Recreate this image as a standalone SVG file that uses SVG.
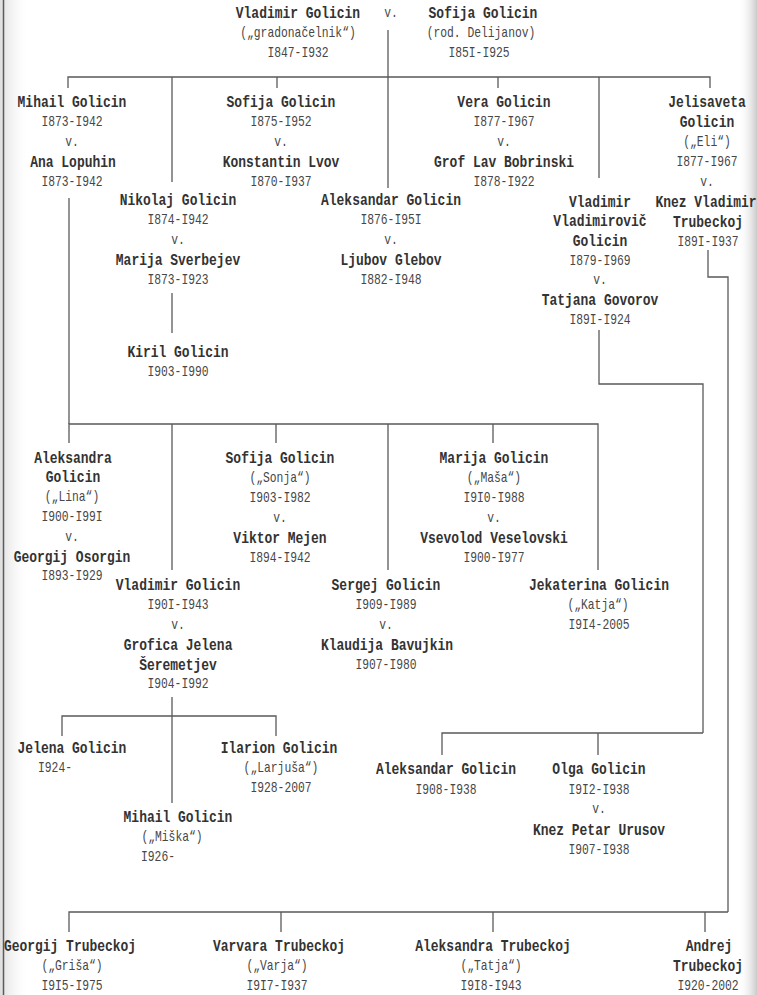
<svg xmlns="http://www.w3.org/2000/svg" width="757" height="995" viewBox="0 0 757 995">
<defs>
<style>
text { transform-box: fill-box; transform-origin: center; transform: scaleX(0.81); text-anchor: middle; }
.n { font-family: "Liberation Mono", "Courier New", monospace; font-weight: bold; font-size: 16px; fill: #333; }
.d { font-family: "Liberation Mono", "Courier New", monospace; font-size: 14px; fill: #474747; }
.s { text-anchor: start; }
.c path { fill: none; stroke: #5a5a5a; stroke-width: 1.3; }
</style>
<linearGradient id="lshade" x1="0" y1="0" x2="1" y2="0">
<stop offset="0" stop-color="#c8c8c8" stop-opacity="0.6"/>
<stop offset="1" stop-color="#ffffff" stop-opacity="0"/>
</linearGradient>
<linearGradient id="rshade" x1="0" y1="0" x2="1" y2="0">
<stop offset="0" stop-color="#ffffff" stop-opacity="0"/>
<stop offset="1" stop-color="#bdbdbd" stop-opacity="0.8"/>
</linearGradient>
</defs>
<rect width="757" height="995" fill="#ffffff"/>
<rect x="0" y="0" width="30" height="995" fill="url(#lshade)"/>
<rect x="738" y="0" width="19" height="995" fill="url(#rshade)"/>
<line x1="3.5" y1="0" x2="3.5" y2="995" stroke="#5a5a5a" stroke-width="1.5"/>

<g id="connectors" class="c">
<path d="M388 30V188"/>
<path d="M68 88V77H710V88"/>
<path d="M277 77V88M498 77V88M172 77V182M599 77V178"/>
<path d="M69 198V424"/>
<path d="M172 293V333"/>
<path d="M708 250V277H728V912"/>
<path d="M599 330V384H703V733"/>
<path d="M69 443V424H598V570M276 424V443M493 424V443M172 424V570M388 424V570"/>
<path d="M172 697V803M62 736V716H276V736"/>
<path d="M442 755V733H703M598 733V755"/>
<path d="M69 932V912H728M281 912V932M493 912V932M705 912V932"/>
</g>

<g id="vladimir-1847">
<text class="n" x="298" y="18">Vladimir Golicin</text>
<text class="d" x="298" y="37">(„gradonačelnik“)</text>
<text class="d" x="298" y="57">I847-I932</text>
</g>
<g id="marriage-top"><text class="d" x="391" y="17">v.</text></g>
<g id="sofija-1851">
<text class="n" x="483" y="18">Sofija Golicin</text>
<text class="d" x="481" y="37">(rod. Delijanov)</text>
<text class="d" x="479" y="57">I85I-I925</text>
</g>

<g id="mihail-1873">
<text class="n" x="72" y="107">Mihail Golicin</text>
<text class="d" x="72" y="126">I873-I942</text>
<text class="d" x="72" y="146">v.</text>
<text class="n" x="73" y="167">Ana Lopuhin</text>
<text class="d" x="72" y="186">I873-I942</text>
</g>
<g id="sofija-1875">
<text class="n" x="281" y="107">Sofija Golicin</text>
<text class="d" x="281" y="126">I875-I952</text>
<text class="d" x="281" y="146">v.</text>
<text class="n" x="281" y="167">Konstantin Lvov</text>
<text class="d" x="281" y="186">I870-I937</text>
</g>
<g id="vera-1877">
<text class="n" x="504" y="107">Vera Golicin</text>
<text class="d" x="504" y="126">I877-I967</text>
<text class="d" x="504" y="146">v.</text>
<text class="n" x="504" y="167">Grof Lav Bobrinski</text>
<text class="d" x="504" y="186">I878-I922</text>
</g>
<g id="jelisaveta-1877">
<text class="n" x="707" y="107">Jelisaveta</text>
<text class="n" x="707" y="127">Golicin</text>
<text class="d" x="707" y="146">(„Eli“)</text>
<text class="d" x="707" y="166">I877-I967</text>
<text class="d" x="707" y="186">v.</text>
<text class="n" x="706" y="207">Knez Vladimir</text>
<text class="n" x="708" y="227">Trubeckoj</text>
<text class="d" x="708" y="246">I89I-I937</text>
</g>
<g id="nikolaj-1874">
<text class="n" x="178" y="205">Nikolaj Golicin</text>
<text class="d" x="178" y="224">I874-I942</text>
<text class="d" x="178" y="244">v.</text>
<text class="n" x="178" y="265">Marija Sverbejev</text>
<text class="d" x="178" y="284">I873-I923</text>
</g>
<g id="kiril-1903">
<text class="n" x="178" y="357">Kiril Golicin</text>
<text class="d" x="178" y="376">I903-I990</text>
</g>
<g id="aleksandar-1876">
<text class="n" x="391" y="205">Aleksandar Golicin</text>
<text class="d" x="391" y="224">I876-I95I</text>
<text class="d" x="391" y="244">v.</text>
<text class="n" x="391" y="265">Ljubov Glebov</text>
<text class="d" x="391" y="284">I882-I948</text>
</g>
<g id="vladimir-1879">
<text class="n" x="600" y="207">Vladimir</text>
<text class="n" x="600" y="226">Vladimirovič</text>
<text class="n" x="600" y="246">Golicin</text>
<text class="d" x="600" y="265">I879-I969</text>
<text class="d" x="600" y="284">v.</text>
<text class="n" x="600" y="305">Tatjana Govorov</text>
<text class="d" x="600" y="324">I89I-I924</text>
</g>

<g id="aleksandra-1900">
<text class="n" x="73" y="463">Aleksandra</text>
<text class="n" x="73" y="482">Golicin</text>
<text class="d" x="72" y="501">(„Lina“)</text>
<text class="d" x="72" y="521">I900-I99I</text>
<text class="d" x="72" y="541">v.</text>
<text class="n" x="72" y="562">Georgij Osorgin</text>
<text class="d" x="72" y="580">I893-I929</text>
</g>
<g id="sofija-1903">
<text class="n" x="280" y="463">Sofija Golicin</text>
<text class="d" x="280" y="482">(„Sonja“)</text>
<text class="d" x="280" y="502">I903-I982</text>
<text class="d" x="280" y="522">v.</text>
<text class="n" x="280" y="543">Viktor Mejen</text>
<text class="d" x="280" y="562">I894-I942</text>
</g>
<g id="marija-1910">
<text class="n" x="494" y="463">Marija Golicin</text>
<text class="d" x="494" y="482">(„Maša“)</text>
<text class="d" x="494" y="502">I9I0-I988</text>
<text class="d" x="494" y="522">v.</text>
<text class="n" x="494" y="543">Vsevolod Veselovski</text>
<text class="d" x="494" y="562">I900-I977</text>
</g>
<g id="vladimir-1901">
<text class="n" x="178" y="590">Vladimir Golicin</text>
<text class="d" x="178" y="609">I90I-I943</text>
<text class="d" x="178" y="629">v.</text>
<text class="n" x="178" y="650">Grofica Jelena</text>
<text class="n" x="178" y="670">Šeremetjev</text>
<text class="d" x="178" y="688">I904-I992</text>
</g>
<g id="sergej-1909">
<text class="n" x="386" y="590">Sergej Golicin</text>
<text class="d" x="386" y="609">I909-I989</text>
<text class="d" x="386" y="629">v.</text>
<text class="n" x="387" y="650">Klaudija Bavujkin</text>
<text class="d" x="386" y="669">I907-I980</text>
</g>
<g id="jekaterina-1914">
<text class="n" x="599" y="590">Jekaterina Golicin</text>
<text class="d" x="598" y="609">(„Katja“)</text>
<text class="d" x="599" y="629">I9I4-2005</text>
</g>

<g id="jelena-1924">
<text class="n" x="72" y="753">Jelena Golicin</text>
<text class="d" x="55" y="772">I924-</text>
</g>
<g id="ilarion-1928">
<text class="n" x="279" y="753">Ilarion Golicin</text>
<text class="d" x="281" y="772">(„Larjuša“)</text>
<text class="d" x="281" y="792">I928-2007</text>
</g>
<g id="mihail-1926">
<text class="n" x="178" y="822">Mihail Golicin</text>
<text class="d" x="172" y="841">(„Miška“)</text>
<text class="d" x="158" y="861">I926-</text>
</g>
<g id="aleksandar-1908">
<text class="n" x="446" y="774">Aleksandar Golicin</text>
<text class="d" x="446" y="794">I908-I938</text>
</g>
<g id="olga-1912">
<text class="n" x="599" y="774">Olga Golicin</text>
<text class="d" x="599" y="794">I9I2-I938</text>
<text class="d" x="599" y="813">v.</text>
<text class="n" x="599" y="835">Knez Petar Urusov</text>
<text class="d" x="599" y="854">I907-I938</text>
</g>

<g id="georgij-1915">
<text class="n" x="70" y="951">Georgij Trubeckoj</text>
<text class="d" x="72" y="970">(„Griša“)</text>
<text class="d" x="72" y="990">I9I5-I975</text>
</g>
<g id="varvara-1917">
<text class="n" x="279" y="951">Varvara Trubeckoj</text>
<text class="d" x="277" y="970">(„Varja“)</text>
<text class="d" x="277" y="990">I9I7-I937</text>
</g>
<g id="aleksandra-1918">
<text class="n" x="493" y="951">Aleksandra Trubeckoj</text>
<text class="d" x="491" y="970">(„Tatja“)</text>
<text class="d" x="491" y="990">I9I8-I943</text>
</g>
<g id="andrej-1920">
<text class="n" x="709" y="951">Andrej</text>
<text class="n" x="708" y="971">Trubeckoj</text>
<text class="d" x="708" y="990">I920-2002</text>
</g>
</svg>
